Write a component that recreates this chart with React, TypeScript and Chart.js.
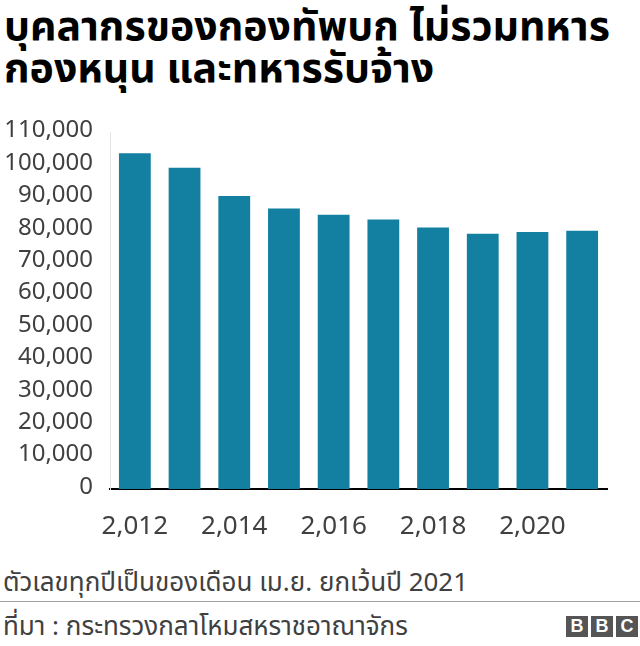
import React, { useEffect, useRef } from "react";
import { Chart, registerables } from "chart.js";

Chart.register(...registerables);

const years = [2012, 2013, 2014, 2015, 2016, 2017, 2018, 2019, 2020, 2021];
const personnel = [103600, 99100, 90400, 86500, 84600, 83100, 80700, 78700, 79300, 79700];
const titleLines = ["บุคลากรของกองทัพบก ไม่รวมทหาร", "กองหนุน และทหารรับจ้าง"];
const noteText = "ตัวเลขทุกปีเป็นของเดือน เม.ย. ยกเว้นปี 2021";
const sourceText = "ที่มา : กระทรวงกลาโหมสหราชอาณาจักร";

const FONT = "Tahoma, 'Noto Sans Thai', 'Liberation Sans', Arial, sans-serif";

export default function App() {
  const ref = useRef<HTMLCanvasElement | null>(null);

  useEffect(() => {
    document.body.style.margin = "0";
    const canvas = ref.current;
    if (!canvas) return;
    const chart = new Chart(canvas, {
      type: "bar",
      data: {
        labels: years.map(String),
        datasets: [
          {
            data: personnel,
            backgroundColor: "#1380A1",
            borderWidth: 0,
            barPercentage: 0.8,
            categoryPercentage: 0.8,
          },
        ],
      },
      options: {
        animation: false,
        responsive: false,
        maintainAspectRatio: false,
        layout: { padding: { top: 0, right: 33, bottom: 0, left: 0 } },
        plugins: { legend: { display: false }, tooltip: { enabled: false }, title: { display: false } },
        scales: {
          x: {
            grid: { display: false, drawTicks: false },
            border: { display: true, color: "#000000", width: 2 },
            ticks: {
              autoSkip: false,
              maxRotation: 0,
              padding: 24,
              color: "#404040",
              font: { family: FONT, size: 26 },
              callback: (_v: any, i: number) => (i % 2 === 0 ? years[i].toLocaleString("en-US") : ""),
            },
            afterFit: (s: any) => {
              s.height = 60;
            },
          },
          y: {
            min: 0,
            max: 110000,
            grid: { display: false, drawTicks: false },
            border: { display: true, color: "#e4e4e4", width: 1 },
            ticks: {
              autoSkip: false,
              stepSize: 10000,
              padding: 17,
              color: "#404040",
              font: { family: FONT, size: 24 },
              callback: (v: any) => Number(v).toLocaleString("en-US"),
            },
            afterFit: (s: any) => {
              s.width = 110;
            },
          },
        },
      },
    });
    return () => chart.destroy();
  }, []);

  return (
    <div style={{ position: "relative", width: 640, height: 646, background: "#fff", overflow: "hidden", fontFamily: FONT }}>
      <div style={{ position: "absolute", left: 4, top: 6, fontWeight: "bold", fontSize: 41, lineHeight: "42px", color: "#000", whiteSpace: "nowrap" }}>
        {titleLines.map((t, i) => (
          <div key={i}>{t}</div>
        ))}
      </div>
      <canvas ref={ref} width={640} height={448} style={{ position: "absolute", left: 0, top: 101, width: 640, height: 448 }} />
      <div style={{ position: "absolute", left: 3, top: 565, fontSize: 26, lineHeight: "36px", color: "#404040", whiteSpace: "nowrap" }}>{noteText}</div>
      <div style={{ position: "absolute", left: 0, top: 601, width: 640, height: 1, background: "#a0a0a0" }} />
      <div style={{ position: "absolute", left: 3, top: 609, fontSize: 26, lineHeight: "36px", color: "#404040", whiteSpace: "nowrap" }}>{sourceText}</div>
      <div style={{ position: "absolute", left: 566, top: 616, display: "flex", gap: 3 }}>
        {["B", "B", "C"].map((c, i) => (
          <div
            key={i}
            style={{
              width: 22,
              height: 21,
              background: "#555555",
              color: "#fff",
              fontFamily: "'Liberation Sans', Arial, sans-serif",
              fontWeight: "bold",
              fontSize: 18,
              lineHeight: "21px",
              textAlign: "center",
            }}
          >
            {c}
          </div>
        ))}
      </div>
    </div>
  );
}
